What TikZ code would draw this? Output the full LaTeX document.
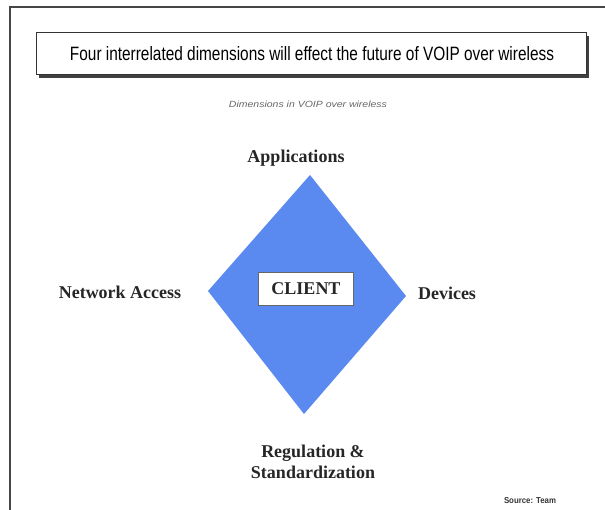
\documentclass[tikz,border=0pt]{standalone}
\usepackage{fontspec}
\setmainfont{Liberation Serif}
\newfontfamily\arialf{Liberation Sans}
\usepackage{graphicx}
\definecolor{diamondblue}{RGB}{90,138,240}
\definecolor{framegray}{RGB}{70,70,70}
\tikzset{
  lbl/.style={font=\fontsize{18}{21}\selectfont\bfseries, text=black!85, inner sep=0pt, align=center},
  titlebox/.style={draw=black!80, line width=1pt, fill=white},
}
\begin{document}
\begin{tikzpicture}[x=1pt,y=-1pt]
\useasboundingbox (0,0) rectangle (605,510);
% outer frame (top and left only)
\draw[framegray, line width=1.6pt] (10,510) -- (10,7) -- (605,7);
% title box with shadow
\fill[black!75] (39,36) rectangle (589,78);
\draw[titlebox] (36,33) rectangle (586,75);
\node (title) at (312,54) {\arialf\resizebox{484pt}{14pt}{Four interrelated dimensions will effect the future of VOIP over wireless}};
\node[text=black!60] (sub) at (308,104) {\arialf\itshape\resizebox{158pt}{6.5pt}{Dimensions in VOIP over wireless}};
% diamond
\coordinate (dT) at (310,175);
\coordinate (dR) at (406,296);
\coordinate (dB) at (304,414);
\coordinate (dL) at (208,291);
\fill[diamondblue] (dT) -- (dR) -- (dB) -- (dL) -- cycle;
% client box
\draw[black!60, line width=0.6pt, fill=white] (258,272) rectangle (353,305);
\node[lbl] (client) at (306,289) {CLIENT};
% labels
\node[lbl] (app) at (296,158) {Applications};
\node[lbl] (net) at (120,292) {Network Access};
\node[lbl] (dev) at (447,293) {Devices};
\node[lbl] (reg) at (313,462) {Regulation \&\\Standardization};
\node[text=black!80] (src) at (530,501) {\arialf\bfseries\resizebox{52pt}{6pt}{Source: Team}};
\end{tikzpicture}
\end{document}
